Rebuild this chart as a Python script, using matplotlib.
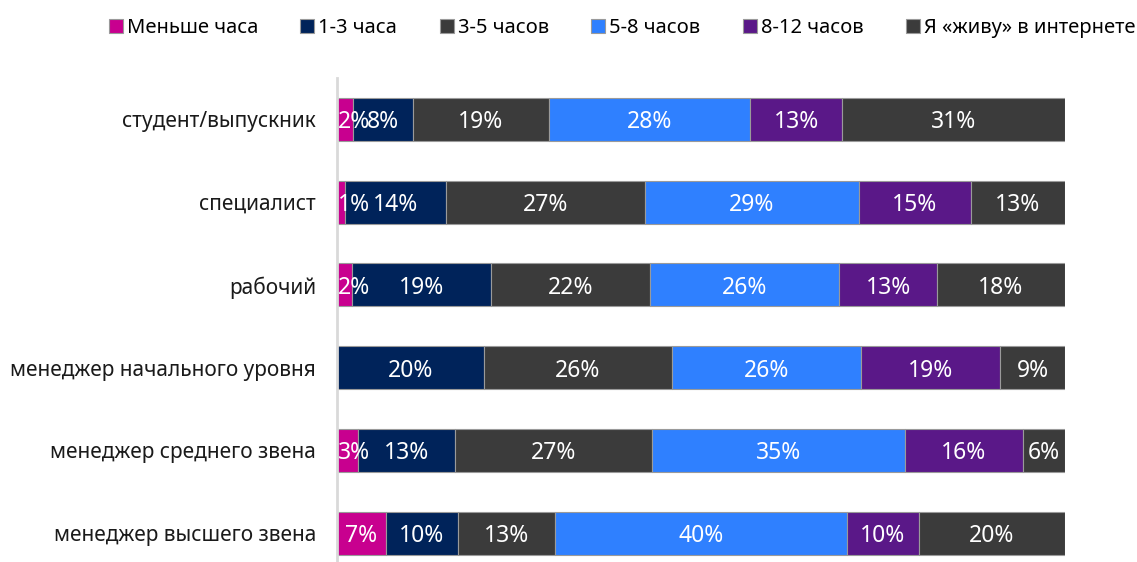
import matplotlib
matplotlib.use("Agg")
import matplotlib.pyplot as plt
import numpy as np

plt.rcParams['font.family'] = ['Noto Sans', 'DejaVu Sans']

categories = ["студент/выпускник", "специалист", "рабочий",
              "менеджер начального уровня", "менеджер среднего звена",
              "менеджер высшего звена"]
series_names = ["Меньше часа", "1-3 часа", "3-5 часов", "5-8 часов",
                "8-12 часов", "Я «живу» в интернете"]
less_1h = [2.2, 1.1, 2.1, 0.0, 2.9, 6.7]
h1_3 = [8.2, 13.9, 19.1, 20.2, 13.3, 9.9]
h3_5 = [18.7, 27.2, 21.8, 25.8, 27.1, 13.3]
h5_8 = [27.6, 29.4, 26.0, 26.0, 34.8, 40.1]
h8_12 = [12.6, 15.4, 13.4, 19.1, 16.2, 9.9]
live_online = [30.6, 12.9, 17.6, 8.9, 5.8, 20.1]
colors = ["#C8008F", "#00235A", "#3B3B3B", "#2F80FF", "#5A1888", "#3B3B3B"]

data = np.array([less_1h, h1_3, h3_5, h5_8, h8_12, live_online])
data = data / data.sum(axis=0) * 100

fig = plt.figure(figsize=(11.37, 5.62), dpi=100)
ax = fig.add_axes([337/1137, 0, (1065-337)/1137, (562-78)/562])

y = np.arange(len(categories))
left = np.zeros(len(categories))
handles = []
for i, (name, col) in enumerate(zip(series_names, colors)):
    vals = data[i]
    b = ax.barh(y, vals, left=left, height=0.52, color=col,
                edgecolor="#9a9a9a", linewidth=0.8, label=name)
    handles.append(b)
    for j, v in enumerate(vals):
        if v <= 0.5:
            continue
        lab = f"{round(v)}%"
        if i == 0 and v < 5:
            ax.text(left[j] + 0.1, y[j], lab, ha="left", va="center_baseline",
                    color="white", fontsize=16.5)
        else:
            ax.text(left[j] + v / 2, y[j], lab, ha="center", va="center_baseline",
                    color="white", fontsize=16.5)
    left += vals

ax.set_xlim(0, 100)
ax.set_ylim(5.35, -0.5)
ax.set_yticks(y)
ax.set_yticklabels(categories, fontsize=15, color="#1a1a1a")
ax.tick_params(axis="y", length=0, pad=15)
ax.set_xticks([])
for s in ["top", "right", "bottom"]:
    ax.spines[s].set_visible(False)
ax.spines["left"].set_color("#d9d9d9")
ax.spines["left"].set_linewidth(2)

fig.legend(handles=handles, labels=series_names, loc="center",
           bbox_to_anchor=(622/1137, 1 - 28/562), ncol=6, frameon=False,
           fontsize=14.5, handlelength=0.7, handleheight=0.7,
           handletextpad=0.2, columnspacing=2.1, borderaxespad=0)

fig.savefig("out.png", dpi=100)
